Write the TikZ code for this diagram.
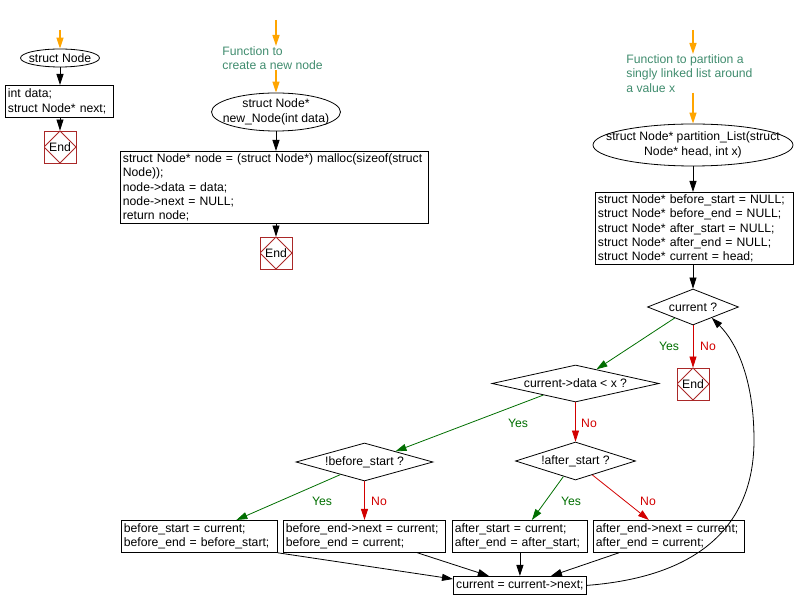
\documentclass[tikz,border=0pt]{standalone}
\usepackage{fontspec}
\setmainfont{Liberation Sans}
\usetikzlibrary{shapes.geometric,arrows.meta,calc}
\definecolor{startorange}{RGB}{255,165,0}
\definecolor{notegreen}{RGB}{64,140,110}
\definecolor{yesgreen}{RGB}{0,110,0}
\definecolor{nored}{RGB}{210,0,0}
\definecolor{endred}{RGB}{170,40,40}
\begin{document}
\begin{tikzpicture}[
    x=1pt, y=-1pt,
    line width=0.8pt,
    every node/.style={font=\fontsize{12.2}{14.4}\selectfont},
    codebox/.style={draw, anchor=north west, align=left, inner xsep=2.5pt, inner ysep=0pt},
    func/.style={draw, ellipse, inner sep=0pt},
    cond/.style={draw, diamond, aspect=4, inner sep=0pt},
    endbox/.style={draw=endred, minimum size=32pt, inner sep=0pt, path picture={
      \draw[endred] (path picture bounding box.north) -- (path picture bounding box.east)
        -- (path picture bounding box.south) -- (path picture bounding box.west) -- cycle;}},
    note/.style={text=notegreen, anchor=north west, align=left, inner sep=0pt},
    arr/.style={draw, -{Triangle[length=11pt,width=7pt]}},
    startarr/.style={arr, startorange, line width=1.4pt},
    yesarr/.style={arr, yesgreen},
    noarr/.style={arr, nored},
    yeslbl/.style={text=yesgreen},
    nolbl/.style={text=nored}
    ]

    \useasboundingbox (0,0) rectangle (796,609);

    \coordinate (s0) at (60,30);
    \node[func, minimum width=79pt, minimum height=18pt, label=center:struct Node] (e0) at (60,58) {};
    \node[codebox, text width=103pt, minimum height=32pt] (b0) at (5,85) {int data;\\struct Node* next;};
    \node[endbox] (end0) at (60,147) {End};

    \coordinate (s1) at (276,20);
    \node[note] (c1) at (222,46) {Function to\\create a new node};
    \node[func, minimum width=129pt, minimum height=38pt,
      label={[align=center]center:struct Node*\\new\_Node(int data)}] (e1) at (276,112) {};
    \node[codebox, text width=303pt, minimum height=72pt] (m1) at (120,151)
      {struct Node* node = (struct Node*) malloc(sizeof(struct\\Node));\\node->data = data;\\node->next = NULL;\\return node;};
    \node[endbox] (end1) at (276,253) {End};

    \coordinate (s2) at (693,30);
    \node[note] (c2) at (626,54) {Function to partition a\\singly linked list around\\a value x};
    \node[func, minimum width=200pt, minimum height=42pt,
      label={[align=center]center:struct Node* partition\_List(struct\\Node* head, int x)}] (e2) at (693,145) {};
    \node[codebox, text width=193pt, minimum height=72pt] (p1) at (595,192)
      {struct Node* before\_start = NULL;\\struct Node* before\_end = NULL;\\struct Node* after\_start = NULL;\\struct Node* after\_end = NULL;\\struct Node* current = head;};
    \node[cond, minimum width=91pt, minimum height=36pt] (d1) at (693,307) {current ?};
    \node[endbox] (end2) at (693,384) {End};
    \node[cond, minimum width=167pt, minimum height=37pt] (d2) at (575.5,383.5) {current->data < x ?};
    \node[cond, minimum width=137pt, minimum height=38pt] (d3) at (364.5,462) {!before\_start ?};
    \node[cond, minimum width=120pt, minimum height=38pt] (d4) at (575.5,461) {!after\_start ?};
    \node[codebox, text width=151pt, minimum height=32pt] (bx1) at (121,520) {before\_start = current;\\before\_end = before\_start;};
    \node[codebox, text width=157pt, minimum height=32pt] (bx2) at (283,520) {before\_end->next = current;\\before\_end = current;};
    \node[codebox, text width=130pt, minimum height=32pt] (bx3) at (452,520) {after\_start = current;\\after\_end = after\_start;};
    \node[codebox, text width=146pt, minimum height=32pt] (bx4) at (593,520) {after\_end->next = current;\\after\_end = current;};
    \node[codebox, minimum width=133pt, minimum height=18pt] (cur) at (453,576) {current = current->next;};

    \node[yeslbl] (y1) at (669,346) {Yes};
    \node[nolbl] (n1) at (708,346) {No};
    \node[yeslbl] (y2) at (518,423) {Yes};
    \node[nolbl] (n2) at (589,423) {No};
    \node[yeslbl] (y3) at (322,501) {Yes};
    \node[nolbl] (n3) at (379,501) {No};
    \node[yeslbl] (y4) at (571,501) {Yes};
    \node[nolbl] (n4) at (648,501) {No};

    \draw[startarr] (s0) -- (e0);
    \draw[arr] (e0) -- (e0 |- b0.north);
    \draw[arr] (b0.south -| end0) -- (end0);
    \draw[startarr] (s1) -- (s1 |- c1.north);
    \draw[startarr] (s1 |- c1.south) -- (e1);
    \draw[arr] (e1) -- (e1 |- m1.north);
    \draw[arr] (m1.south -| end1) -- (end1);
    \draw[startarr] (s2) -- (s2 |- c2.north);
    \draw[startarr] (s2 |- c2.south) -- (e2);
    \draw[arr] (e2) -- (e2 |- p1.north);
    \draw[arr] (p1.south -| d1) -- (d1);
    \draw[noarr] (d1) -- (end2);
    \draw[yesarr] ($(d1.south)!0.4!(d1.west)$) -- ($(d2.north)!0.25!(d2.east)$);
    \draw[noarr] (d2) -- (d4);
    \draw[yesarr] ($(d2.south)!0.385!(d2.west)$) -- ($(d3.north)!0.45!(d3.east)$);
    \draw[yesarr] ($(d3.south)!0.35!(d3.west)$) -- ([xshift=37pt]bx1.north);
    \draw[noarr] (d3) -- (d3 |- bx2.north);
    \draw[yesarr] ($(d4.south)!0.2!(d4.west)$) -- ([xshift=12pt]bx3.north);
    \draw[noarr] ($(d4.south)!0.28!(d4.east)$) -- ([xshift=-20pt]bx4.north);
    \draw[arr] (bx1.south east) -- ([yshift=-3pt]cur.north west);
    \draw[arr] ([xshift=53pt]bx2.south) -- ([xshift=-31pt]cur.north);
    \draw[arr] (bx3) -- (bx3 |- cur.north);
    \draw[arr] ([xshift=-50pt]bx4.south) -- ([xshift=31pt]cur.north);
    \coordinate (loop) at (754,440);
    \draw[arr] (cur.east) .. controls +(130,-10) and +(0,70) .. (loop)
      .. controls +(0,-60) and +(25,25) .. ($(d1.south)!0.41!(d1.east)$);

\end{tikzpicture}
\end{document}
